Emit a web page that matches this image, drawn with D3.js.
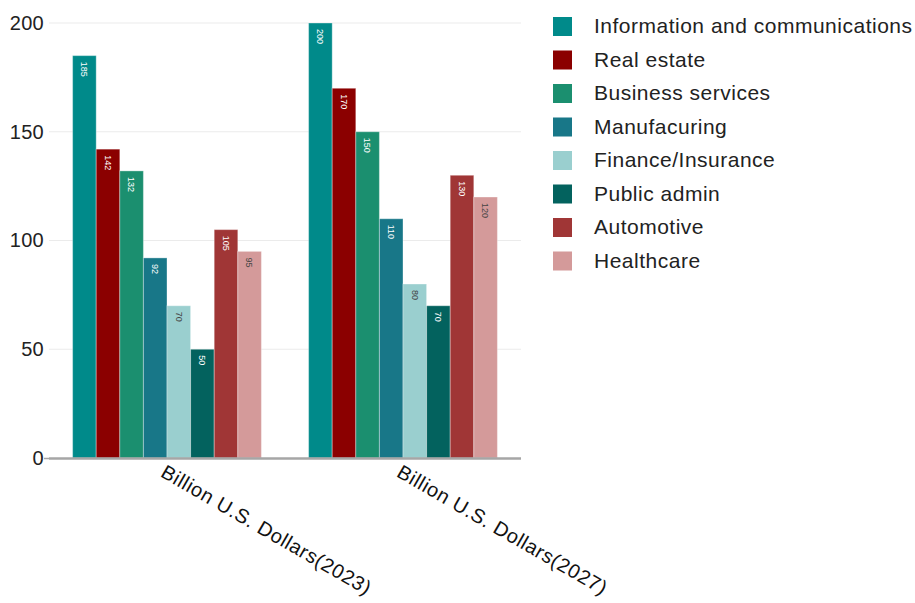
<!DOCTYPE html>
<html>
<head>
<meta charset="utf-8">
<script src="https://cdn.jsdelivr.net/npm/d3@7"></script>
<style>
  body { margin: 0; background: #fff; }
  text { font-family: "Liberation Sans", Arial, sans-serif; }
</style>
</head>
<body>
<div id="chart"></div>
<script>
// chart data
const groups = ["Billion U.S. Dollars(2023)", "Billion U.S. Dollars(2027)"]
const sectors = ["Information and communications", "Real estate", "Business services",
    "Manufacuring", "Finance/Insurance", "Public admin", "Automotive", "Healthcare"]
const values2023 = [185, 142, 132, 92, 70, 50, 105, 95]
const values2027 = [200, 170, 150, 110, 80, 70, 130, 120]
const yTicks = [0, 50, 100, 150, 200]
const colors = ["#008a8a", "#8b0000", "#1b8f6f", "#187788", "#9acfcf", "#03625e", "#a03636", "#d49a9a"]
// light bars get dark labels
const darkLabel = ["Finance/Insurance", "Healthcare"]

const seriesByGroup = [values2023, values2027]

const W = 915, H = 603
const svg = d3.select("#chart")
    .append("svg")
    .attr("width", W)
    .attr("height", H)

// plot area
const plotLeft = 49, plotRight = 521, plotTop = 23, plotBottom = 458

const y = d3.scaleLinear()
    .domain([0, 200])
    .range([plotBottom, plotTop])

const x0 = d3.scaleBand()
    .domain(groups)
    .range([plotLeft, plotRight])
    .paddingInner(0.2)
    .paddingOuter(0.1)

const x1 = d3.scaleBand()
    .domain(sectors)
    .range([0, x0.bandwidth()])

const color = d3.scaleOrdinal()
    .domain(sectors)
    .range(colors)

// gridlines
svg.append("g")
    .selectAll("line")
    .data(yTicks.filter(d => d > 0))
    .join("line")
    .attr("x1", plotLeft)
    .attr("x2", plotRight)
    .attr("y1", d => y(d))
    .attr("y2", d => y(d))
    .attr("stroke", "#ebebeb")
    .attr("stroke-width", 1)

// y axis labels
const yAxis = svg.append("g")
    .attr("transform", `translate(${plotLeft},0)`)
    .call(d3.axisLeft(y).tickValues(yTicks).tickSize(0).tickPadding(5))
yAxis.select(".domain").remove()
yAxis.selectAll("text")
    .attr("font-size", 20)
    .attr("letter-spacing", "0.3px")
    .attr("fill", "#222")
    .style("font-family", "'Liberation Sans', Arial, sans-serif")

// bars
const flat = []
groups.forEach((g, gi) => {
    sectors.forEach((s, si) => {
        flat.push({ group: g, sector: s, value: seriesByGroup[gi][si] })
    })
})

const bars = svg.append("g")
    .selectAll("g")
    .data(flat)
    .join("g")
    .attr("transform", d => `translate(${x0(d.group) + x1(d.sector)},0)`)

bars.append("rect")
    .attr("x", 0)
    .attr("y", d => y(d.value))
    .attr("width", x1.bandwidth())
    .attr("height", d => plotBottom - y(d.value))
    .attr("fill", d => color(d.sector))
    .attr("stroke", "rgba(255,255,255,0.35)")
    .attr("stroke-width", 1)

// value labels, rotated
bars.append("text")
    .attr("transform", d => `translate(${x1.bandwidth() / 2},${y(d.value) + 6}) rotate(90)`)
    .attr("dy", "0.35em")
    .attr("font-size", 9)
    .attr("fill", d => darkLabel.includes(d.sector) ? "#444" : "#fff")
    .text(d => d.value)

// x baseline
svg.append("line")
    .attr("x1", plotLeft)
    .attr("x2", plotRight)
    .attr("y1", plotBottom + 0.5)
    .attr("y2", plotBottom + 0.5)
    .attr("stroke", "#a6a6a6")
    .attr("stroke-width", 2.5)
svg.append("line")
    .attr("x1", plotLeft - 5)
    .attr("x2", plotLeft)
    .attr("y1", plotBottom + 0.5)
    .attr("y2", plotBottom + 0.5)
    .attr("stroke", "#a6a6a6")
    .attr("stroke-width", 1.5)

// x labels, slanted
svg.append("g")
    .selectAll("text")
    .data(groups)
    .join("text")
    .attr("transform", d => `translate(${x0(d) + x0.bandwidth() / 2 - 4},${plotBottom + 12}) rotate(30)`)
    .attr("font-size", 20)
    .attr("letter-spacing", "0.6px")
    .attr("fill", "#111")
    .attr("dy", "0.35em")
    .text(d => d)

// legend
const legend = svg.append("g")
    .selectAll("g")
    .data(sectors)
    .join("g")
    .attr("transform", (d, i) => `translate(553,${26 + i * 33.5})`)

legend.append("rect")
    .attr("x", 0)
    .attr("y", -9)
    .attr("width", 19)
    .attr("height", 19)
    .attr("fill", d => color(d))

legend.append("text")
    .attr("x", 41)
    .attr("y", 0)
    .attr("dy", "0.35em")
    .attr("font-size", 21)
    .attr("letter-spacing", "0.5px")
    .attr("fill", "#222")
    .text(d => d)
</script>
</body>
</html>
